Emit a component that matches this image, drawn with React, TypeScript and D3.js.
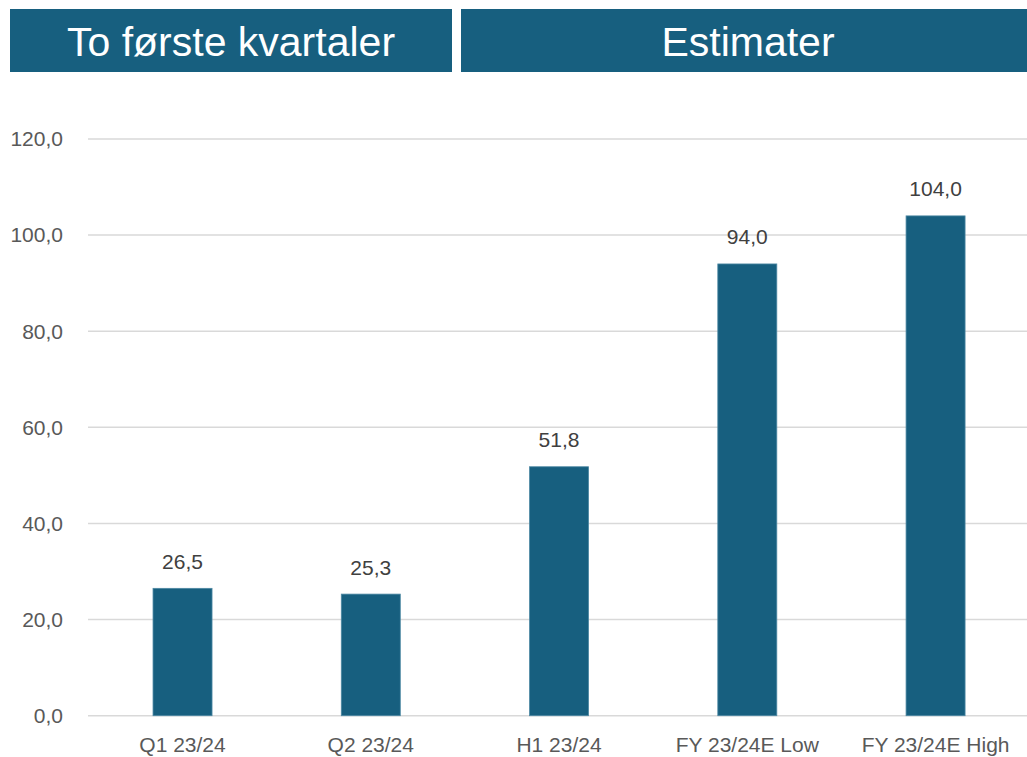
import React from "react";
import * as d3 from "d3";

const categories = ["Q1 23/24", "Q2 23/24", "H1 23/24", "FY 23/24E Low", "FY 23/24E High"];
const values = [26.5, 25.3, 51.8, 94.0, 104.0];
const yTicks = [0, 20, 40, 60, 80, 100, 120];
const headers = ["To første kvartaler", "Estimater"];

const W = 1027;
const H = 757;
const BLUE = "#175f7f";
const FONT = "'Liberation Sans', Arial, sans-serif";

const fmt = (v: number) => v.toFixed(1).replace(".", ",");

export default function App() {
  const x = d3
    .scaleBand<string>()
    .domain(categories)
    .range([88.4, 1029.7])
    .paddingInner(0.6866)
    .paddingOuter(0.3433);
  const y = d3.scaleLinear().domain([0, 120]).range([715.7, 139]);

  const headerBoxes = [
    { x0: 10, x1: 452 },
    { x0: 461, x1: 1035 },
  ];

  return (
    <svg
      width={W}
      height={H}
      style={{ position: "absolute", left: 0, top: 0, background: "#fff" }}
      fontFamily={FONT}
    >
      {headers.map((h, i) => {
        const b = headerBoxes[i];
        return (
          <g key={h}>
            <rect x={b.x0} y={9} width={b.x1 - b.x0} height={63} fill={BLUE} />
            <text
              x={(b.x0 + b.x1) / 2}
              y={55.5}
              textAnchor="middle"
              fill="#fff"
              fontSize={41}
            >
              {h}
            </text>
          </g>
        );
      })}

      {yTicks.map((t) => (
        <g key={t}>
          <line x1={88} x2={W} y1={y(t)} y2={y(t)} stroke="#d9d9d9" strokeWidth={1.5} />
          <text
            x={63}
            y={y(t)}
            dy="0.35em"
            textAnchor="end"
            fill="#595959"
            fontSize={21}
          >
            {fmt(t)}
          </text>
        </g>
      ))}

      {categories.map((c, i) => {
        const bx = x(c)!;
        const v = values[i];
        return (
          <g key={c}>
            <rect
              x={bx}
              y={y(v)}
              width={x.bandwidth()}
              height={y(0) - y(v)}
              fill={BLUE}
              stroke="#4d88a3"
              strokeWidth={0.8}
            />
            <text
              x={bx + x.bandwidth() / 2}
              y={y(v) - 19.5}
              textAnchor="middle"
              fill="#404040"
              fontSize={21}
            >
              {fmt(v)}
            </text>
            <text
              x={bx + x.bandwidth() / 2}
              y={751.5}
              textAnchor="middle"
              fill="#595959"
              fontSize={21}
            >
              {c}
            </text>
          </g>
        );
      })}
    </svg>
  );
}
